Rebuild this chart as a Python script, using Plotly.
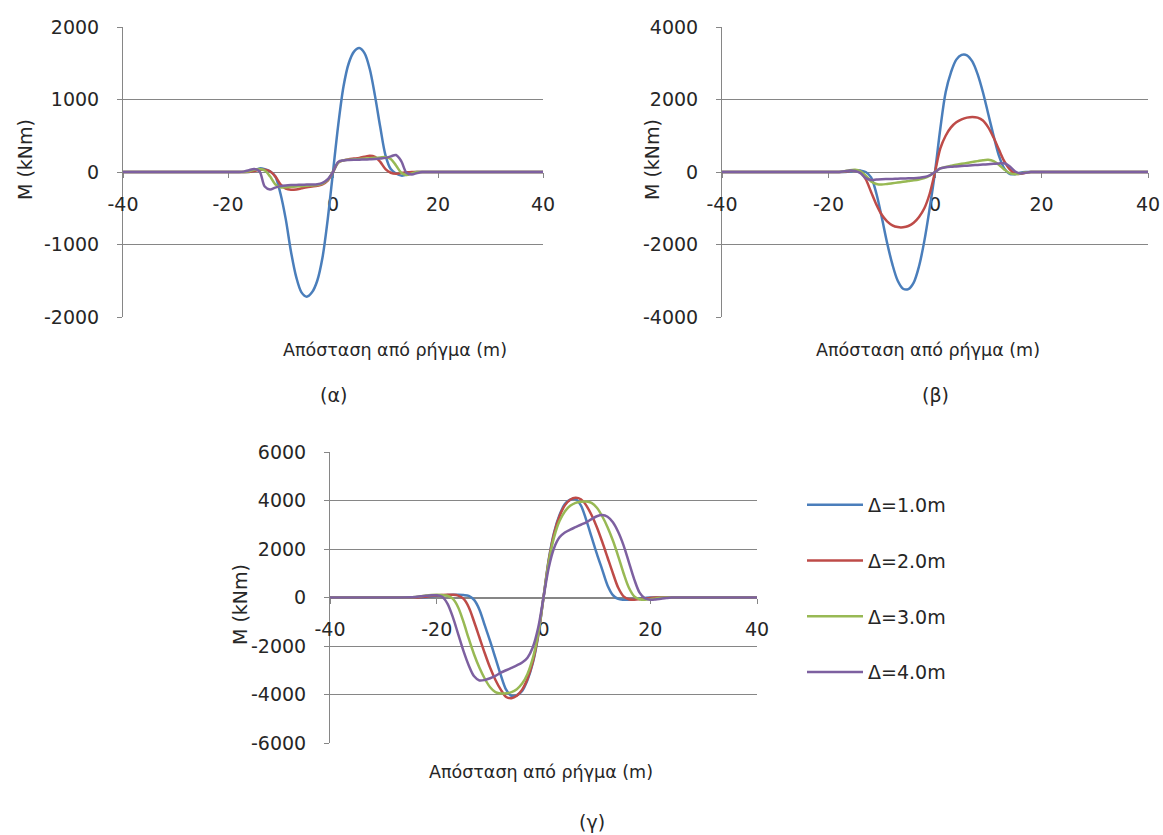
import plotly.graph_objects as go

W, H = 1163, 835

# Distance from fault (m)
X = [-40, -30, -24, -23, -22, -21, -20, -19, -18, -17, -16, -15, -14, -13, -12, -11, -10, -9, -8, -7, -6,
     -5, -4, -3, -2, -1, 0, 1, 2, 3, 4, 5, 6, 7, 8, 9, 10, 11, 12, 13, 14, 15, 16, 17, 18, 19, 20, 21, 22,
     23, 24, 30, 40]

NAMES = ["Δ=1.0m", "Δ=2.0m", "Δ=3.0m", "Δ=4.0m"]
COLORS = ["#4A7EBB", "#BE4B48", "#98B954", "#7D60A0"]

# Panel (α)
A1 = [0, 0, 0, 0, 0, 0, 0, 0, 0, 0, 0,
      20, 50, 40, 10, -60, -300, -650, -1100, -1450, -1660, -1720, -1660, -1500, -1180, -650, 0,
      650, 1180, 1500, 1660, 1710, 1640, 1420, 1050, 620, 230, 40, -20, -50, -40, -10,
      0, 0, 0, 0, 0, 0, 0, 0, 0, 0, 0]
A2 = [0, 0, 0, 0, 0, 0, 0, 0, 0, 0, 5,
      15, 30, 30, 10, -60, -170, -230, -245, -240, -225, -210, -200, -190, -170, -120, 0,
      130, 160, 175, 185, 195, 210, 225, 210, 140, 40, -10, -25, -15, -5, 0,
      0, 0, 0, 0, 0, 0, 0, 0, 0, 0, 0]
A3 = [0, 0, 0, 0, 0, 0, 0, 0, 0, 0, 10,
      30, 40, 20, -60, -170, -210, -210, -205, -200, -195, -190, -185, -180, -160, -110, 0,
      130, 160, 170, 175, 180, 185, 190, 195, 200, 205, 180, 90, -10, -40, -20,
      0, 0, 0, 0, 0, 0, 0, 0, 0, 0, 0]
A4 = [0, 0, 0, 0, 0, 0, 0, 0, 0, 5, 25,
      40, 10, -200, -240, -215, -195, -185, -180, -178, -176, -174, -172, -168, -150, -100, 0,
      140, 160, 165, 168, 170, 172, 175, 178, 185, 195, 215, 235, 150, -10, -35,
      -15, 0, 0, 0, 0, 0, 0, 0, 0, 0, 0]

# Panel (β)
B1 = [0, 0, 0, 0, 0, 0, 0, 0, 0, 0, 10,
      50, 40, 0, -150, -600, -1250, -1950, -2550, -3000, -3220, -3230, -3050, -2600, -1900, -1000, 0,
      1200, 2200, 2750, 3100, 3230, 3220, 3050, 2700, 2200, 1600, 1000, 450, 100, -50, -60,
      -20, 0, 0, 0, 0, 0, 0, 0, 0, 0, 0]
B2 = [0, 0, 0, 0, 0, 0, 0, 0, 0, 5, 30,
      40, 10, -200, -550, -900, -1180, -1360, -1470, -1520, -1525, -1490, -1400, -1240, -1000, -600, 0,
      650, 1000, 1230, 1370, 1450, 1500, 1520, 1500, 1420, 1230, 950, 620, 300, 80, -40,
      -50, -20, 0, 0, 0, 0, 0, 0, 0, 0, 0]
B3 = [0, 0, 0, 0, 0, 0, 0, 0, 0, 20, 50,
      60, 20, -100, -260, -330, -345, -330, -310, -290, -270, -250, -230, -205, -170, -100, 0,
      100, 140, 170, 200, 225, 250, 275, 300, 325, 335, 300, 200, 70, -30, -60,
      -40, -10, 0, 0, 0, 0, 0, 0, 0, 0, 0]
B4 = [0, 0, 0, 0, 0, 0, 0, 0, 0, 20, 40,
      30, -30, -170, -220, -210, -200, -195, -190, -185, -180, -175, -170, -160, -140, -90, 0,
      100, 130, 145, 155, 165, 175, 185, 195, 205, 215, 225, 235, 240, 160, 20,
      -40, -20, 0, 0, 0, 0, 0, 0, 0, 0, 0]

# Panel (γ)
C1 = [0, 0, 0, 0, 15, 40, 70, 90, 100, 110, 110,
      100, 70, -100, -500, -1150, -1800, -2500, -3200, -3800, -4060, -4030, -3850, -3400, -2700, -1600, 0,
      1600, 2700, 3400, 3850, 4030, 4060, 3800, 3200, 2500, 1800, 1150, 500, 100, -60, -90,
      -90, -70, -40, -20, 0, 0, 0, 0, 0, 0, 0]
C2 = [0, 0, 0, 10, 30, 60, 85, 100, 110, 110, 80,
      -50, -400, -1000, -1650, -2300, -2900, -3400, -3800, -4100, -4150, -4050, -3800, -3350, -2650, -1550, 0,
      1550, 2650, 3350, 3800, 4030, 4110, 4050, 3800, 3400, 2900, 2300, 1650, 1000, 400, 50,
      -70, -90, -70, -40, -20, 0, 0, 0, 0, 0, 0]
C3 = [0, 0, 20, 50, 80, 100, 110, 100, 70, -50, -400,
      -1000, -1700, -2350, -2900, -3350, -3700, -3900, -3960, -3950, -3900, -3780, -3550, -3150, -2500, -1500, 0,
      1500, 2500, 3150, 3550, 3780, 3900, 3950, 3960, 3900, 3700, 3350, 2900, 2350, 1700, 1000,
      400, 50, -70, -90, -70, -40, -15, 0, 0, 0, 0]
C4 = [0, 0, 20, 50, 70, 90, 90, 30, -250, -800, -1500,
      -2200, -2800, -3250, -3420, -3400, -3330, -3230, -3100, -3000, -2900, -2800, -2680, -2480, -2050, -1250, 0,
      1250, 2050, 2480, 2680, 2800, 2900, 3000, 3100, 3230, 3350, 3400, 3330, 3100, 2700, 2150,
      1450, 750, 200, -30, -90, -80, -50, -20, 0, 0, 0]

X_TICKS = [-40, -20, 0, 20, 40]
X_TICK_TEXT = ["-40", "-20", "0", "20", "40"]
Y_TICKS_A = [-2000, -1000, 0, 1000, 2000]
Y_TICKS_B = [-4000, -2000, 0, 2000, 4000]
Y_TICKS_C = [-6000, -4000, -2000, 0, 2000, 4000, 6000]
X_TITLE = "Απόσταση από ρήγμα (m)"
Y_TITLE = "M (kNm)"
LABELS = ["(α)", "(β)", "(γ)"]


def fx(p):
    return p / W


def fy(p):
    return 1 - p / H


GRID = "#868686"
TXT = "#262626"
FONT = "DejaVu Sans"

panels = [
    dict(xdom=(123, 543), ydom=(27, 317), yt_vals=Y_TICKS_A, series=[A1, A2, A3, A4],
         xt=(395, 350), yt=(25, 160), lab=(333, 395)),
    dict(xdom=(722, 1148), ydom=(27, 317), yt_vals=Y_TICKS_B, series=[B1, B2, B3, B4],
         xt=(928, 350), yt=(652, 160), lab=(935, 395)),
    dict(xdom=(330, 757), ydom=(452, 743), yt_vals=Y_TICKS_C, series=[C1, C2, C3, C4],
         xt=(541, 772), yt=(240, 605), lab=(592, 822)),
]

fig = go.Figure()
annotations = []
layout_axes = {}
for i, p in enumerate(panels):
    n = "" if i == 0 else str(i + 1)
    for s in range(4):
        fig.add_trace(go.Scatter(
            x=X, y=p["series"][s], mode="lines", name=NAMES[s],
            line=dict(color=COLORS[s], width=2.5, shape="spline", smoothing=0.9),
            xaxis="x" + n, yaxis="y" + n, showlegend=(i == 2), legendgroup=NAMES[s],
            hoverinfo="skip"))
    y0 = (fy(p["ydom"][0]) + fy(p["ydom"][1])) / 2
    yv = p["yt_vals"]
    layout_axes["xaxis" + n] = dict(
        domain=[fx(p["xdom"][0]), fx(p["xdom"][1])], range=[-40, 40],
        tickvals=X_TICKS, ticktext=X_TICK_TEXT, anchor="free", position=y0,
        showline=True, linecolor=GRID, linewidth=1, ticks="outside", ticklen=5,
        tickcolor=GRID, showgrid=False, zeroline=False, layer="below traces",
        automargin=False,
        tickfont=dict(family=FONT, size=19, color=TXT), ticklabelstandoff=10)
    layout_axes["yaxis" + n] = dict(
        domain=[fy(p["ydom"][1]), fy(p["ydom"][0])], range=[yv[0], yv[-1]],
        tickvals=yv, ticktext=[str(v) for v in yv], anchor="x" + n,
        showline=True, linecolor=GRID, linewidth=1, ticks="outside", ticklen=5,
        tickcolor=GRID, showgrid=True, gridcolor=GRID, gridwidth=1, zeroline=False,
        layer="below traces", automargin=False,
        tickfont=dict(family=FONT, size=19, color=TXT), ticklabelstandoff=14)
    annotations.append(dict(text=X_TITLE, x=fx(p["xt"][0]), y=fy(p["xt"][1]), xref="paper",
                            yref="paper", showarrow=False, xanchor="center", yanchor="middle",
                            font=dict(family=FONT, size=17.5, color=TXT)))
    annotations.append(dict(text=Y_TITLE, x=fx(p["yt"][0]), y=fy(p["yt"][1]), xref="paper",
                            yref="paper", showarrow=False, xanchor="center", yanchor="middle",
                            textangle=-90, font=dict(family=FONT, size=19, color=TXT)))
    annotations.append(dict(text=LABELS[i], x=fx(p["lab"][0]), y=fy(p["lab"][1]), xref="paper",
                            yref="paper", showarrow=False, xanchor="center", yanchor="middle",
                            font=dict(family=FONT, size=19, color=TXT)))

fig.update_layout(
    width=W, height=H, margin=dict(l=0, r=0, t=0, b=0, autoexpand=False),
    paper_bgcolor="white", plot_bgcolor="white",
    showlegend=True,
    legend=dict(x=fx(802), y=fy(486), xanchor="left", yanchor="top",
                font=dict(family=FONT, size=19, color=TXT), itemwidth=56,
                tracegroupgap=28, bgcolor="rgba(0,0,0,0)"),
    annotations=annotations,
    **layout_axes,
)

fig.write_html("out.html")
